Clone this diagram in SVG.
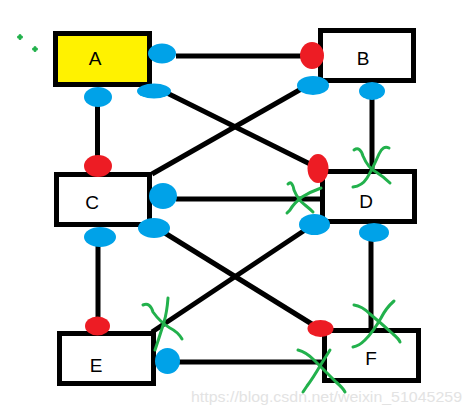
<svg xmlns="http://www.w3.org/2000/svg" width="471" height="414" viewBox="0 0 471 414">
<style>
.box{fill:#fff;stroke:#000;stroke-width:5}
.lbl{font-family:"Liberation Sans",Arial,sans-serif;font-size:19px;fill:#000;text-anchor:middle}
.ln{stroke:#000;stroke-width:5;fill:none}
.bl{fill:#00A2E8}
.rd{fill:#ED1C24}
.x{stroke:#22B14C;stroke-width:3;fill:none;stroke-linecap:round}
.wm{font-family:"Liberation Sans",Arial,sans-serif;font-size:14px;fill:#e3e3e3}
</style>
<rect width="471" height="414" fill="#fff"/>
<g id="node-A"><rect class="box" x="55.5" y="33.5" width="94" height="51" style="fill:#FFF200"/><text class="lbl" x="95" y="65">A</text></g>
<g id="node-B"><rect class="box" x="320.5" y="30.5" width="93" height="50"/><text class="lbl" x="363" y="65">B</text></g>
<g id="node-C"><rect class="box" x="56.5" y="174.5" width="93" height="50"/><text class="lbl" x="92" y="209">C</text></g>
<g id="node-D"><rect class="box" x="322.5" y="171.5" width="92" height="50"/><text class="lbl" x="366" y="208">D</text></g>
<g id="node-E"><rect class="box" x="59.5" y="333.5" width="94" height="50"/><text class="lbl" x="96" y="372">E</text></g>
<g id="node-F"><rect class="box" x="324.5" y="330.5" width="94" height="50"/><text class="lbl" x="371" y="365">F</text></g>
<g id="connectors">
<line class="ln" x1="176" y1="56" x2="302" y2="56"/>
<line class="ln" x1="97.5" y1="105" x2="97.5" y2="157"/>
<line class="ln" x1="165" y1="92" x2="312" y2="165"/>
<line class="ln" x1="303" y1="88" x2="152" y2="174"/>
<line class="ln" x1="372" y1="98" x2="372" y2="171"/>
<line class="ln" x1="176" y1="199" x2="324" y2="199"/>
<line class="ln" x1="160" y1="230" x2="315" y2="326"/>
<line class="ln" x1="305" y1="230" x2="152" y2="332"/>
<line class="ln" x1="371" y1="240" x2="371" y2="330"/>
<line class="ln" x1="98" y1="245" x2="98" y2="320"/>
<line class="ln" x1="178" y1="362" x2="324" y2="362"/>
</g>
<g id="ends">
<ellipse class="bl" cx="162" cy="53.5" rx="14" ry="10"/>
<ellipse class="bl" cx="154" cy="91" rx="17" ry="7.5"/>
<ellipse class="bl" cx="98" cy="97" rx="14" ry="10"/>
<ellipse class="rd" cx="98" cy="166" rx="14" ry="11"/>
<ellipse class="bl" cx="163" cy="196" rx="14" ry="13"/>
<ellipse class="bl" cx="154" cy="228" rx="16" ry="10"/>
<ellipse class="bl" cx="100" cy="237" rx="16" ry="10"/>
<ellipse class="rd" cx="97.5" cy="326" rx="12.5" ry="9.5"/>
<ellipse class="bl" cx="167.5" cy="361" rx="12.5" ry="13"/>
<ellipse class="rd" cx="312" cy="55.5" rx="12" ry="13.5"/>
<ellipse class="bl" cx="313" cy="85.5" rx="16" ry="9.5"/>
<ellipse class="bl" cx="372" cy="91" rx="13" ry="9"/>
<ellipse class="rd" cx="318" cy="168.5" rx="10.5" ry="14.5"/>
<ellipse class="bl" cx="314.5" cy="224.5" rx="15.5" ry="10.5"/>
<ellipse class="bl" cx="374" cy="232.5" rx="15" ry="9.5"/>
<ellipse class="rd" cx="320.5" cy="328.5" rx="13" ry="8.5"/>
</g>
<g id="marks">
<path class="x" d="M354,150 Q360,146 363,156 Q368,168 376,172 Q384,177 390,183"/>
<path class="x" d="M389,148 Q383,145 379,154 Q372,170 367,178 Q362,186 353,187"/>
<path class="x" d="M288,184 Q292,180 294,190 Q298,200 305,205 Q310,209 313,212"/>
<path class="x" d="M321,188 Q310,192 302,197 Q294,203 290,210 L287,213"/>
<path class="x" d="M143,305 Q150,302 153,312 Q160,322 170,328 Q178,332 182,339"/>
<path class="x" d="M168,298 Q167,312 164,322 Q160,335 157,344 L155,350"/>
<path class="x" d="M354,305 Q362,306 370,314 Q382,324 393,334 Q399,339 400,342"/>
<path class="x" d="M394,301 Q386,308 381,318 Q373,332 365,340 Q359,346 353,347"/>
<path class="x" d="M298,350 Q306,352 314,360 Q326,372 336,382 Q343,388 345,392"/>
<path class="x" d="M330,350 Q325,358 320,366 Q313,378 307,386 L303,392"/>
<path class="x" stroke-width="1.5" d="M18.5,37 h3 M20,35.5 v3 M33.5,49 h3 M35,47.5 v3"/>
</g>
<text class="wm" x="191" y="402" textLength="271" lengthAdjust="spacingAndGlyphs">https://blog.csdn.net/weixin_51045259</text>
</svg>
